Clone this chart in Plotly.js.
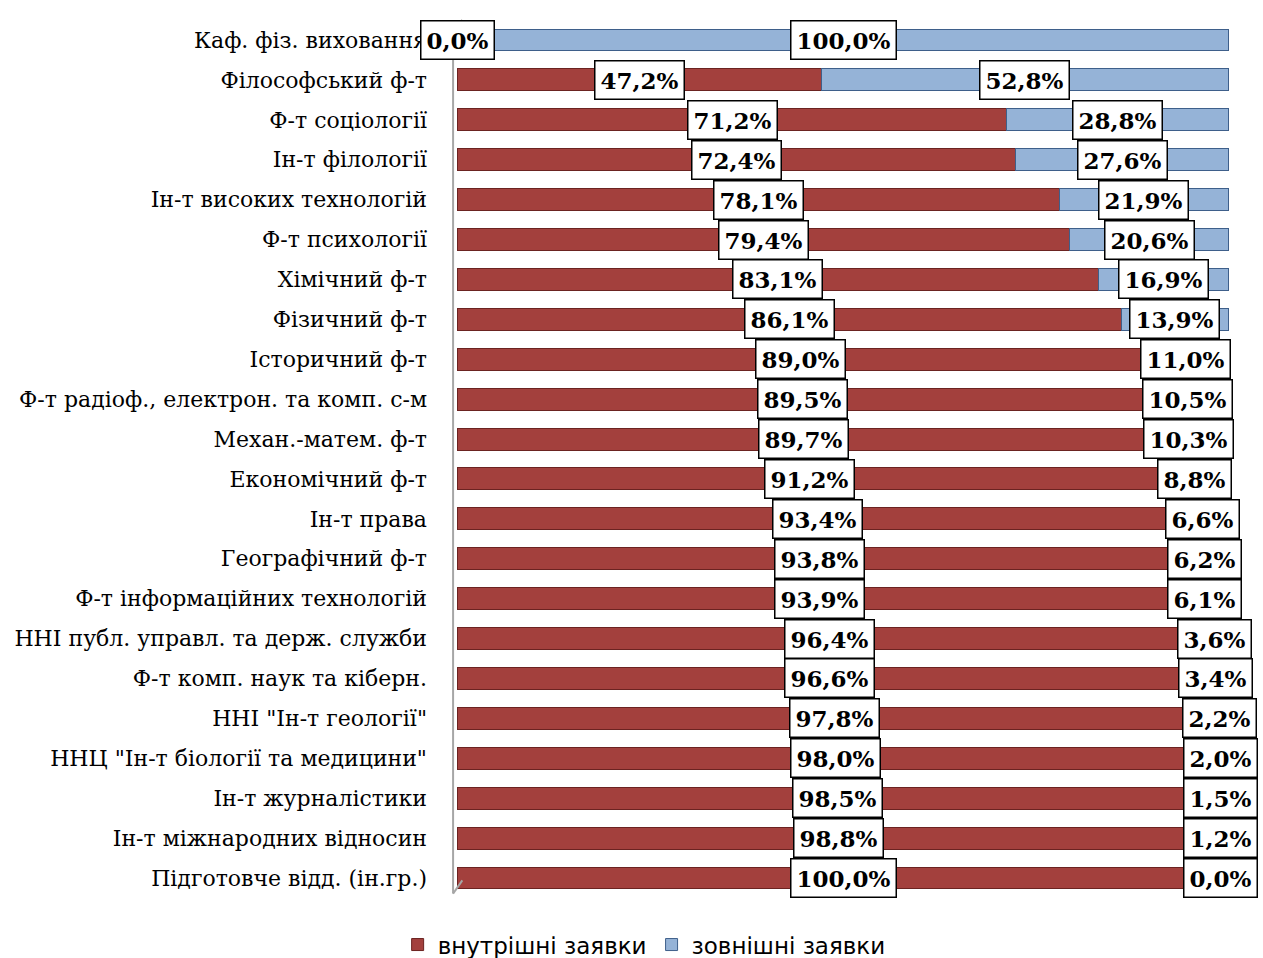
<!DOCTYPE html>
<html><head><meta charset="utf-8">
<script src="https://cdn.plot.ly/plotly-3.0.1.min.js"></script>
<style>body{margin:0;background:#fff}</style>
</head><body><div id="chart" style="width:1263px;height:958px"></div>
<script>
const categories = [
 "Каф. фіз. виховання","Філософський ф-т","Ф-т соціології","Ін-т філології","Ін-т високих технологій",
 "Ф-т психології","Хімічний ф-т","Фізичний ф-т","Історичний ф-т","Ф-т радіоф., електрон. та комп. с-м",
 "Механ.-матем. ф-т","Економічний ф-т","Ін-т права","Географічний ф-т","Ф-т інформаційних технологій",
 "ННІ публ. управл. та держ. служби","Ф-т комп. наук та кіберн.","ННІ \"Ін-т геології\"",
 "ННЦ \"Ін-т біології та медицини\"","Ін-т журналістики","Ін-т міжнародних відносин","Підготовче відд. (ін.гр.)"
];
const internal = [0.0,47.2,71.2,72.4,78.1,79.4,83.1,86.1,89.0,89.5,89.7,91.2,93.4,93.8,93.9,96.4,96.6,97.8,98.0,98.5,98.8,100.0];
const external = [100.0,52.8,28.8,27.6,21.9,20.6,16.9,13.9,11.0,10.5,10.3,8.8,6.6,6.2,6.1,3.6,3.4,2.2,2.0,1.5,1.2,0.0];
const seriesNames = ["внутрішні заявки","зовнішні заявки"];

const fmt = v => v.toFixed(1).replace('.', ',') + '%';
const RED = '#A3403D', BLUE = '#95B3D7';

const traces = [
 {type:'bar', orientation:'h', name:seriesNames[0], y:categories, x:internal,
  marker:{color:RED, line:{color:'#6B2321', width:1}}, hoverinfo:'x+y'},
 {type:'bar', orientation:'h', name:seriesNames[1], y:categories, x:external,
  marker:{color:BLUE, line:{color:'#3E5F8A', width:1}}, hoverinfo:'x+y'}
];

const lblFont = {family:'DejaVu Serif', size:23, color:'#000', weight:'bold'};
const annotations = [];
categories.forEach((c,i)=>{
  annotations.push({x: internal[i]/2, y:c, xref:'x', yref:'y', text:'<b>'+fmt(internal[i])+'</b>',
    showarrow:false, font:lblFont, bgcolor:'#fff', bordercolor:'#000', borderwidth:1.5, borderpad:5});
  let xc = internal[i] + external[i]/2;
  if (xc > 99) xc = 99;
  annotations.push({x: xc, y:c, xref:'x', yref:'y', text:'<b>'+fmt(external[i])+'</b>',
    showarrow:false, font:lblFont, bgcolor:'#fff', bordercolor:'#000', borderwidth:1.5, borderpad:5});
});

const layout = {
  width:1263, height:958,
  margin:{l:450, r:30, t:20, b:60, autoexpand:false},
  paper_bgcolor:'#fff', plot_bgcolor:'#fff',
  barmode:'stack', bargap:0.45,
  showlegend:true,
  legend:{orientation:'h', x:0.51, xanchor:'center', xref:'container', y:0.014, yanchor:'middle', yref:'container',
    font:{family:'DejaVu Sans', size:23, color:'#000'}, traceorder:'normal', itemwidth:30},
  xaxis:{range:[-1,100.6], showgrid:false, zeroline:false, showticklabels:false, showline:false, fixedrange:true},
  yaxis:{type:'category', autorange:'reversed', showgrid:false, zeroline:false, showline:false,
    ticks:'', ticklabelstandoff:22,
    tickfont:{family:'DejaVu Serif', size:22, color:'#000'}},
  shapes:[
    {type:'line', xref:'x', yref:'paper', x0:-0.6, x1:-0.6, y0:0.005, y1:0.99, line:{color:'#A6A6A6', width:2}},
    {type:'line', xref:'x', yref:'paper', x0:-0.6, x1:0.6, y0:0.99, y1:1.0, line:{color:'#A6A6A6', width:2}},
    {type:'line', xref:'x', yref:'paper', x0:-0.6, x1:0.6, y0:0.005, y1:0.02, line:{color:'#A6A6A6', width:2}}
  ],
  annotations: annotations
};
Plotly.newPlot('chart', traces, layout, {displayModeBar:false, staticPlot:true});
</script></body></html>
